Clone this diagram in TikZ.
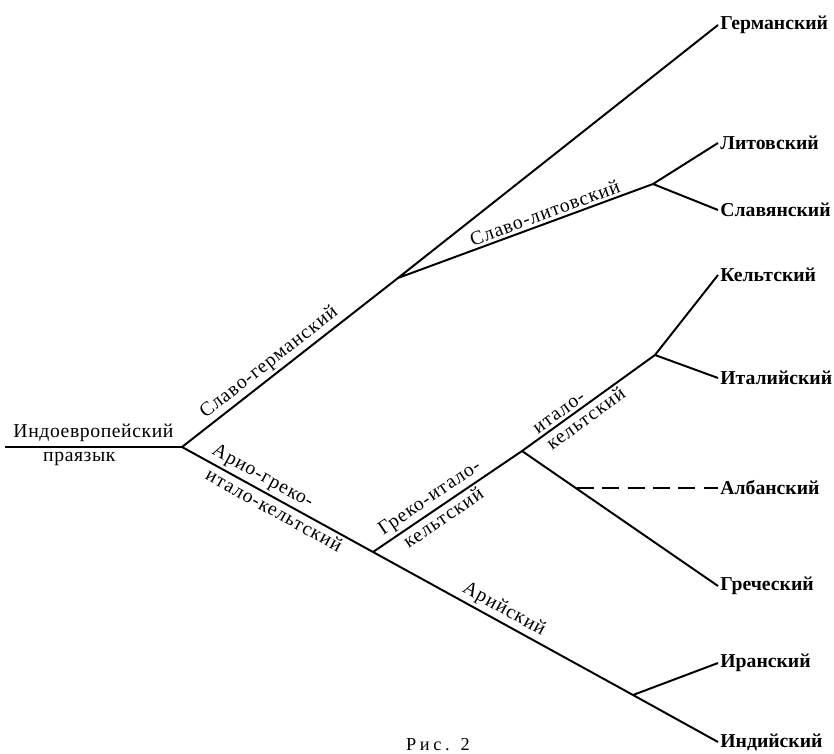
\documentclass[tikz,border=0pt]{standalone}
\usepackage{fontspec}
\setmainfont{Liberation Serif}
\usetikzlibrary{positioning}

\begin{document}
\begin{tikzpicture}[x=0.025cm,y=-0.025cm,line width=1.4pt,
        leaf/.style={anchor=west,inner sep=1pt,font=\fontsize{14}{16}\selectfont\bfseries},
        branch/.style={sloped,inner sep=2pt,font=\fontsize{14}{16}\selectfont\addfontfeatures{LetterSpace=5}},
        rootlabel/.style={inner sep=3pt,font=\fontsize{14}{16}\selectfont\addfontfeatures{LetterSpace=3}},
        albdash/.style={dashed,dash pattern=on 12pt off 6pt}]
        \useasboundingbox (0,0) rectangle (834,754);

        % branching points
        \coordinate (root) at (5,447);
        \coordinate (pie) at (182,447);
        \coordinate (slger) at (398,278);
        \coordinate (sllit) at (653,184);
        \coordinate (agic) at (373,552);
        \coordinate (gric) at (522,451);
        \coordinate (itcel) at (655,355);
        \coordinate (albfork) at (577,488);
        \coordinate (arya) at (633,695);

        % languages
        \node at (718,25)  [leaf] (germ) {Германский};
        \node at (718,143) [leaf] (lit) {Литовский};
        \node at (718,210) [leaf] (slav) {Славянский};
        \node at (718,275) [leaf] (kelt) {Кельтский};
        \node at (718,378) [leaf] (ital) {Италийский};
        \node at (718,488) [leaf] (alb) {Албанский};
        \node at (718,586) [leaf] (greek) {Греческий};
        \node at (718,663) [leaf] (iran) {Иранский};
        \node at (718,742) [leaf] (ind) {Индийский};

        \node at (438,745) [font=\fontsize{13}{15}\selectfont\addfontfeatures{LetterSpace=20}] (fig) {Рис. 2};

        \draw   (root) -- node[rootlabel, above, pos=0.5]{Индоевропейский}
                          node[rootlabel, below, pos=0.42]{праязык} (pie)
                (pie) -- node[branch, above, pos=0.44]{Славо-германский} (slger) -- (germ.west)
                (slger) -- node[branch, above, pos=0.59]{Славо-литовский} (sllit) -- (lit.west)
                (sllit) -- (slav.west)
                (pie) -- node[branch, above, pos=0.39]{Арио-греко-}
                         node[branch, below, pos=0.51]{итало-кельтский} (agic)
                (agic) -- node[branch, above, pos=0.48]{Арийский} (arya) -- (ind.west)
                (arya) -- (iran.west)
                (agic) -- node[branch, above, pos=0.43]{Греко-итало-}
                          node[branch, below, pos=0.43]{кельтский} (gric)
                (gric) -- node[branch, above, pos=0.32]{итало-}
                          node[branch, below, pos=0.43]{кельтский} (itcel) -- (kelt.west)
                (itcel) -- (ital.west)
                (gric) -- (greek.west)
            ;
        \draw[albdash] (albfork) -- (alb.west);

    \end{tikzpicture}
\end{document}
